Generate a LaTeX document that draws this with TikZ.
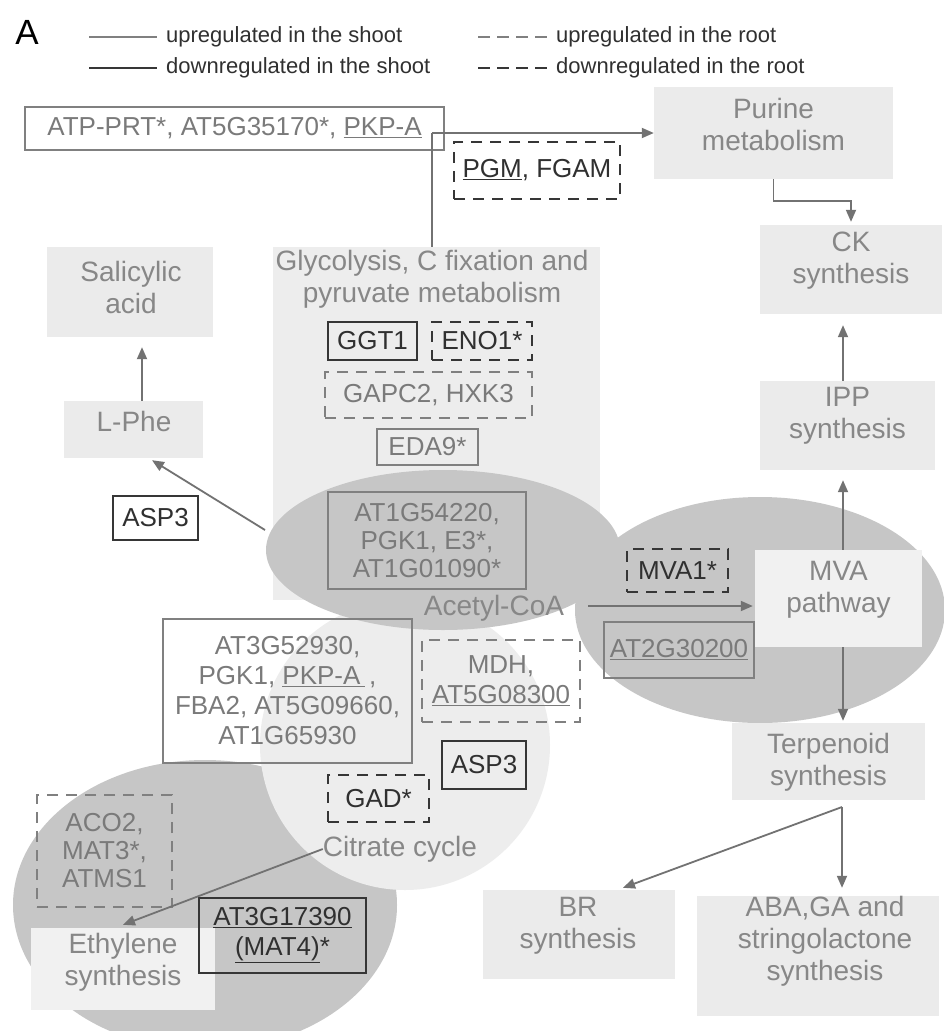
\documentclass[tikz,border=0pt]{standalone}
\usepackage{fontspec}
\setmainfont{Liberation Sans}
\usetikzlibrary{arrows.meta,shapes.geometric,calc}
\definecolor{boxfill}{HTML}{EBEBEB}
\definecolor{glyfill}{HTML}{EDEDED}
\definecolor{ellfill}{HTML}{C6C6C6}
\definecolor{circfill}{HTML}{EDEDED}
\definecolor{mvafill}{HTML}{F1F1F1}
\definecolor{pathtext}{HTML}{878787}
\definecolor{genetext}{HTML}{7A7A7A}
\definecolor{upline}{HTML}{808080}
\definecolor{dnline}{HTML}{363636}
\definecolor{dntext}{HTML}{303030}
\definecolor{arrowgray}{HTML}{727272}
\newcommand\genefont{\fontsize{26}{30}\selectfont}
\newcommand\pwfont{\fontsize{28}{32}\selectfont}
\newcommand\legfont{\fontsize{22}{26}\selectfont}
\tikzset{
  pwbox/.style={fill=boxfill, draw=none, inner sep=0pt},
  pwtext/.style={inner sep=0pt, align=center, text=pathtext, font=\pwfont},
  gbox/.style={line width=2pt, inner sep=0pt, align=center, font=\genefont},
  upshoot/.style={gbox, draw=upline, text=genetext},
  dnshoot/.style={gbox, draw=dnline, text=dntext},
  uproot/.style={upshoot, dash pattern=on 11pt off 8pt},
  dnroot/.style={dnshoot, dash pattern=on 11pt off 8pt},
  arr/.style={draw=arrowgray, line width=1.8pt, -{Triangle[length=12pt,width=10pt]}},
  conn/.style={draw=arrowgray, line width=1.8pt},
  legtext/.style={inner sep=0pt, anchor=west, text=dntext, font=\legfont},
}
\begin{document}
\begin{tikzpicture}[x=1pt,y=-1pt]
\useasboundingbox (0,0) rectangle (943,1031);
\fill[white] (0,0) rectangle (943,1031);

% ---------- background regions
\node[fill=glyfill, inner sep=0pt, minimum width=327pt, minimum height=353pt] (glyco) at (436.5,423.5) {};
\node[ellipse, fill=ellfill, inner sep=0pt, minimum width=384pt, minimum height=290pt] (ethell) at (205,905) {};
\node[circle, fill=circfill, inner sep=0pt, minimum size=290pt] (citcirc) at (405,745) {};
\node[ellipse, fill=ellfill, inner sep=0pt, minimum width=354pt, minimum height=160pt] (acell) at (443,550) {};
\node[ellipse, fill=ellfill, inner sep=0pt, minimum width=370pt, minimum height=226pt] (mvaell) at (760,610) {};

% ---------- legend
\node[inner sep=0pt, font=\fontsize{35}{40}\selectfont] (lblA) at (27,32.5) {A};
\coordinate (l1a) at (89,37);  \coordinate (l1b) at (157,37);
\coordinate (l2a) at (89,68);  \coordinate (l2b) at (157,68);
\coordinate (l3a) at (478,37); \coordinate (l3b) at (550,37);
\coordinate (l4a) at (478,68); \coordinate (l4b) at (550,68);
\draw[line width=2pt, upline] (l1a) -- (l1b);
\draw[line width=2pt, dnline] (l2a) -- (l2b);
\draw[line width=2pt, upline, dash pattern=on 12pt off 7pt] (l3a) -- (l3b);
\draw[line width=2pt, dnline, dash pattern=on 12pt off 7pt] (l4a) -- (l4b);
\node[legtext] (leg1) at (166,37) {upregulated in the shoot};
\node[legtext] (leg2) at (166,68) {downregulated in the shoot};
\node[legtext] (leg3) at (556,37) {upregulated in the root};
\node[legtext] (leg4) at (556,68) {downregulated in the root};

% ---------- pathway boxes
\node[pwbox, minimum width=239pt, minimum height=92pt] (purine) at (773.5,133) {};
\node[pwtext] (purinet) at (773.5,124) {Purine\\metabolism};
\node[pwbox, minimum width=182pt, minimum height=89pt] (ck) at (851,269.5) {};
\node[pwtext] (ckt) at (851,261) {CK\\synthesis};
\node[pwbox, minimum width=175pt, minimum height=89pt] (ipp) at (847.5,425.5) {};
\node[pwtext] (ippt) at (847.5,416) {IPP\\synthesis};
\node[pwbox, fill=mvafill, minimum width=167pt, minimum height=97pt] (mva) at (838.5,598.5) {};
\node[pwtext] (mvat) at (838.5,590) {MVA\\pathway};
\node[pwbox, minimum width=193pt, minimum height=77pt] (terp) at (828.5,761.5) {};
\node[pwtext] (terpt) at (828.5,762) {Terpenoid\\synthesis};
\node[pwbox, minimum width=192pt, minimum height=89pt] (br) at (579,934.5) {};
\node[pwtext] (brt) at (578,926) {BR\\synthesis};
\node[pwbox, minimum width=242pt, minimum height=120pt] (aba) at (818,956) {};
\node[pwtext] (abat) at (825,941.5) {ABA,GA and\\stringolactone\\synthesis};
\node[pwbox, minimum width=166pt, minimum height=90pt] (salic) at (130,292) {};
\node[pwtext] (salict) at (131,287) {Salicylic\\acid};
\node[pwbox, minimum width=139pt, minimum height=57pt] (lphe) at (133.5,429.5) {};
\node[pwtext] (lphet) at (134,421) {L-Phe};
\node[pwbox, fill=mvafill, minimum width=184pt, minimum height=82pt] (ethyl) at (123,969) {};
\node[pwtext] (ethylt) at (123,962) {Ethylene\\synthesis};

% ---------- free labels
\node[pwtext] (glytext) at (432,279) {Glycolysis, C fixation and\\pyruvate metabolism};
\node[pwtext] (acetyl) at (494,608) {Acetyl-CoA};
\node[pwtext] (citrate) at (400,849) {Citrate cycle};

% ---------- gene boxes
\node[upshoot, minimum width=419pt, minimum height=43pt] (atp) at (234.5,128.5) {ATP-PRT*, AT5G35170*, \underline{PKP-A}};
\node[dnroot, minimum width=166pt, minimum height=57pt] (pgm) at (537,170.5) {\underline{PGM}, FGAM};
\node[dnshoot, minimum width=89pt, minimum height=38pt] (ggt) at (372.5,341) {GGT1};
\node[dnroot, minimum width=100pt, minimum height=38pt] (eno) at (482,341) {ENO1*};
\node[uproot, minimum width=207pt, minimum height=46pt] (gapc) at (428.5,395) {GAPC2, HXK3};
\node[upshoot, minimum width=101pt, minimum height=36pt] (eda) at (427.5,447) {EDA9*};
\node[upshoot, minimum width=198pt, minimum height=97pt] (at1g54) at (427,540.5) {AT1G54220,\\[-2pt]PGK1, E3*,\\[-2pt]AT1G01090*};
\node[dnshoot, minimum width=85pt, minimum height=44pt] (asp3a) at (155.5,518) {ASP3};
\node[upshoot, minimum width=249pt, minimum height=144pt] (at3g52) at (287.5,691) {AT3G52930,\\PGK1, \underline{PKP-A\,}\,,\\FBA2, AT5G09660,\\AT1G65930};
\node[uproot, minimum width=158pt, minimum height=82pt] (mdh) at (501,681) {MDH,\\\underline{AT5G08300}};
\node[dnshoot, minimum width=84pt, minimum height=48pt] (asp3b) at (484,765) {ASP3};
\node[dnroot, minimum width=101pt, minimum height=47pt] (gad) at (378.5,798.5) {GAD*};
\node[dnroot, minimum width=101pt, minimum height=43pt] (mva1) at (677.5,570.5) {MVA1*};
\node[upshoot, minimum width=150pt, minimum height=56pt] (at2g) at (679,650) {\underline{AT2G30200}};
\node[uproot, minimum width=135pt, minimum height=112pt] (aco2) at (104.5,851) {ACO2,\\[-2pt]MAT3*,\\[-2pt]ATMS1};
\node[dnshoot, minimum width=167pt, minimum height=75pt] (at3g17) at (282.5,935.5) {\underline{AT3G17390}\\\underline{(MAT4)}*};

% ---------- connectors
\coordinate (j1) at (432,133);
\draw[arr] (j1) -- (j1 -| purine.west);
\draw[conn] (j1) -- (j1 |- glyco.north);
\draw[arr, shorten >=3pt] (purine.south) -- ++(0,22) -| (ck.north);
\draw[arr, shorten >=11pt] ([xshift=-4.5pt]ipp.north) -- ([xshift=-4.5pt]ipp.north |- ck.south);
\draw[arr, shorten >=10pt] ([xshift=4.5pt]mva.north) -- ([xshift=4.5pt]mva.north |- ipp.south);
\draw[arr, shorten >=2pt] ([xshift=4.5pt]mva.south) -- ([xshift=4.5pt]mva.south |- terp.north);
\coordinate (tj) at (842,807);
\draw[arr, shorten >=8pt] (tj) -- (tj |- aba.north);
\draw[arr] (tj) -- ([xshift=44pt,yshift=2pt]br.north);
\coordinate (acstart) at (588,606);
\draw[arr, shorten >=2pt] (acstart) -- (acstart -| mva.west);
\coordinate (lphestart) at (265,530);
\draw[arr] (lphestart) -- ([xshift=18.5pt,yshift=-2pt]lphe.south);
\draw[arr, shorten >=10pt] ([xshift=8.5pt]lphe.north) -- ([xshift=8.5pt]lphe.north |- salic.south);
\draw[arr] (citrate.west) -- ([yshift=3pt]ethyl.north);
\end{tikzpicture}
\end{document}
